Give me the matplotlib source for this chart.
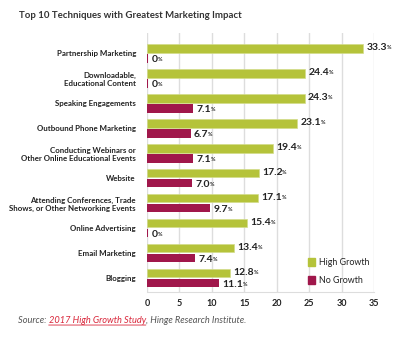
import matplotlib.pyplot as plt
from matplotlib.patches import Patch

plt.rcParams['font.family'] = ['Lato', 'DejaVu Sans']

techniques = ['Partnership Marketing', 'Downloadable,\nEducational Content', 'Speaking Engagements',
              'Outbound Phone Marketing', 'Conducting Webinars or\nOther Online Educational Events',
              'Website', 'Attending Conferences, Trade\nShows, or Other Networking Events',
              'Online Advertising', 'Email Marketing', 'Blogging']
high_growth = [33.3, 24.4, 24.3, 23.1, 19.4, 17.2, 17.1, 15.4, 13.4, 12.8]
no_growth = [0, 0, 7.1, 6.7, 7.1, 7.0, 9.7, 0, 7.4, 11.1]
xticks = [0, 5, 10, 15, 20, 25, 30, 35]

green = '#b5c33a'
red = '#a0174b'
dark = '#222222'

fig = plt.figure(figsize=(4.13, 3.39), dpi=100)
ax = fig.add_axes([0.356, 0.139, 0.55, 0.764])

ys = list(range(len(techniques)))
h = 0.34
off = 0.2
ax.barh([y - off for y in ys], high_growth, height=h, color=green, edgecolor='#d3dc8a', linewidth=0.5, zorder=3)
ax.barh([y + off for y in ys], [v if v > 0 else 0.2 for v in no_growth], height=h, color=red, zorder=3)


def label(x, y, v):
    t = ax.text(x, y, '%g' % v if v == 0 else '%.1f' % v, fontsize=7.5, fontweight='bold',
                color=dark, va='center', ha='left')
    ax.annotate('%', xy=(0.98, 0.8), xycoords=t, fontsize=4, fontweight='bold',
                color=dark, va='top', ha='left')


for y, v in zip(ys, high_growth):
    label(v + 0.5, y - off - 0.02, v)
for y, v in zip(ys, no_growth):
    label(max(v, 0.2) + 0.5, y + off + 0.06, v)

ax.set_xlim(0, 35)
ax.set_ylim(9.55, -0.82)
ax.set_xticks(xticks)
ax.set_xticklabels([str(t) for t in xticks], fontsize=6.5, fontweight='bold', color=dark)
ax.set_yticks(ys)
ax.set_yticklabels(techniques, fontsize=5.7, fontweight='bold', color=dark, linespacing=1.2)
ax.tick_params(length=0, pad=8)
ax.tick_params(axis='x', pad=5)
ax.grid(axis='x', color='#dddddd', linewidth=1, zorder=0)
for s in ['top', 'right', 'left']:
    ax.spines[s].set_visible(False)
ax.spines['bottom'].set_color('#dddddd')

handles = [Patch(color=green, label='High Growth'), Patch(color=red, label='No Growth')]
ax.legend(handles=handles, loc='lower left', bbox_to_anchor=(0.675, -0.005), frameon=False,
          fontsize=6.4, handlelength=0.8, handleheight=0.95, handletextpad=0.45, labelspacing=1.0,
          labelcolor=dark)

fig.text(0.045, 0.955, 'Top 10 Techniques with Greatest Marketing Impact', fontsize=6.9,
         fontweight='bold', color='#333333', va='center')

src = fig.text(0.044, 0.055, 'Source: ', fontsize=6.7, style='italic', color='#555555', va='center')
link = ax.annotate('2017 High Growth Study', xy=(1, 0), xycoords=src, fontsize=6.7, style='italic',
                   color='#d9263a', va='bottom', ha='left')
link.set_annotation_clip(False)
rest = ax.annotate(', Hinge Research Institute.', xy=(1, 0), xycoords=link, fontsize=6.7,
                   style='italic', color='#555555', va='bottom', ha='left')
ax.annotate('', xy=(1, -0.02), xycoords=link, xytext=(0, -0.02), textcoords=link,
            arrowprops=dict(arrowstyle='-', color='#d9263a', lw=0.6, shrinkA=0, shrinkB=0))

fig.savefig('out.png', dpi=100)
